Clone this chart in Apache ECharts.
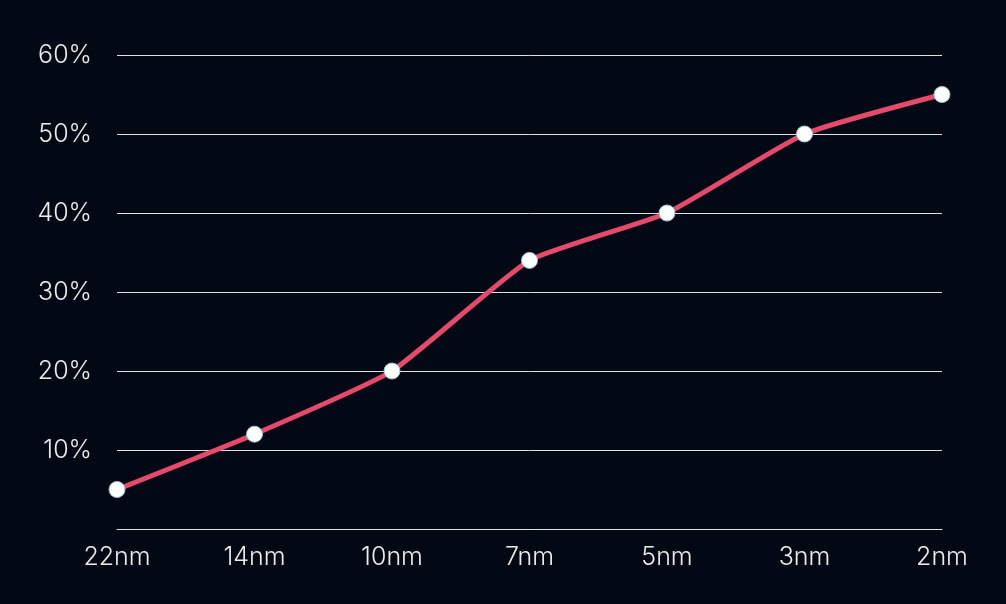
<!DOCTYPE html>
<html><head><meta charset="utf-8">
<script src="https://cdn.jsdelivr.net/npm/echarts@6/dist/echarts.min.js"></script>
<style>html,body{margin:0;padding:0;background:#020915;}#c{width:1006px;height:604px;}</style>
</head><body><div id="c"></div>
<script>
const categories = ['22nm','14nm','10nm','7nm','5nm','3nm','2nm'];
const values = [5, 12, 20, 34, 40, 50, 55];
const yTicks = [0, 10, 20, 30, 40, 50, 60];

const chart = echarts.init(document.getElementById('c'), null, {renderer:'canvas'});
chart.setOption({
  backgroundColor: '#020915',
  animation: false,
  grid: {left: 117, right: 64, top: 55, bottom: 75},
  xAxis: {
    type: 'category', data: categories, boundaryGap: false,
    axisLine: {show: true, lineStyle: {color: '#e0e0e0', width: 1}},
    axisTick: {show: false},
    axisLabel: {color: '#ececec', fontSize: 25, fontWeight: 300, fontFamily: 'Inter', margin: 16}
  },
  yAxis: {
    type: 'value', min: yTicks[0], max: yTicks[yTicks.length-1], interval: 10,
    axisLine: {show: false}, axisTick: {show: false},
    splitLine: {lineStyle: {color: '#e0e0e0', width: 1}},
    axisLabel: {color: '#ececec', fontSize: 25, fontWeight: 300, fontFamily: 'Inter', margin: 25,
      formatter: v => v === 0 ? '' : v + '%'}
  },
  series: [{
    type: 'line', data: values, smooth: 0.15,
    lineStyle: {color: '#e44a6c', width: 5},
    symbol: 'circle', symbolSize: 16,
    itemStyle: {color: '#ffffff', borderColor: '#9ec3d6', borderWidth: 1}
  }]
});
</script></body></html>
